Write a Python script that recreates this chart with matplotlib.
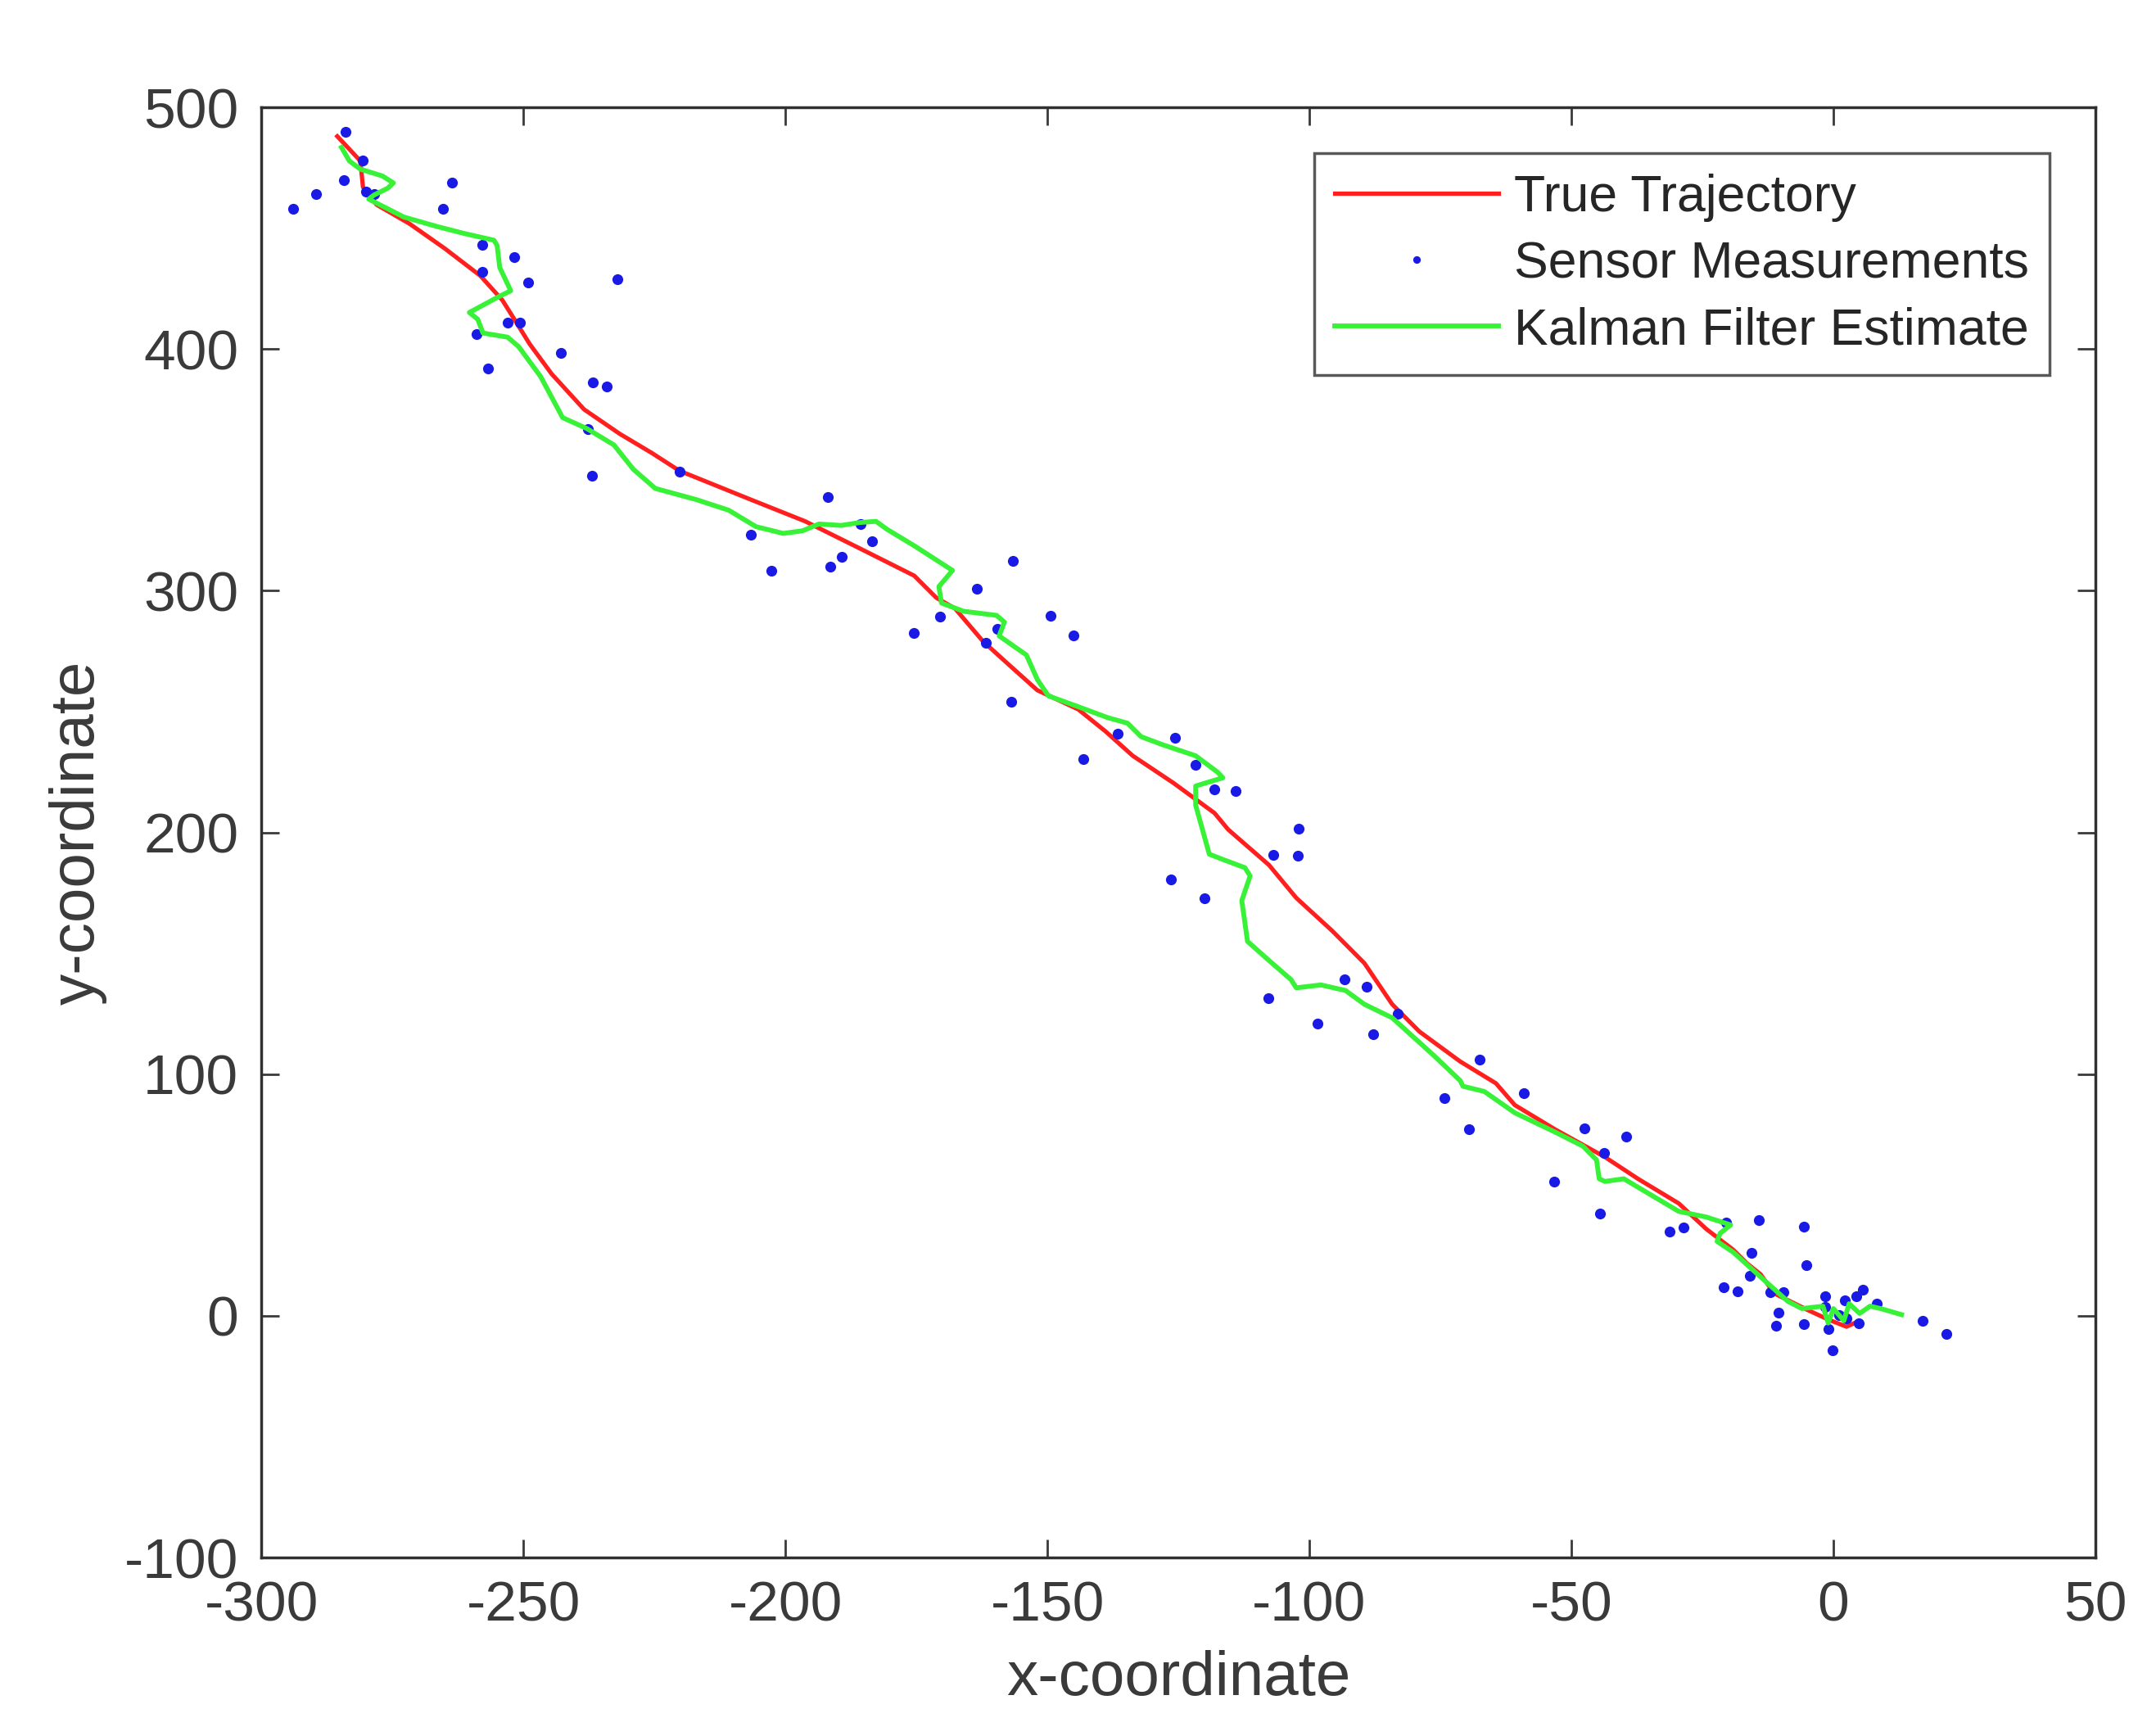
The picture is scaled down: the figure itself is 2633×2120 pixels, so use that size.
import matplotlib
matplotlib.use("Agg")
import matplotlib.pyplot as plt

# true trajectory (red)
true_x = [-285.5, -281.1, -280.6, -278.0, -271.7, -265.0, -258.2, -254.0, -251.4, -248.8,
          -244.6, -238.4, -231.6, -225.5, -220.2, -206.6, -196.2, -185.8, -175.4, -171.2,
          -167.6, -162.3, -157.1, -151.9, -144.1, -138.9, -133.7, -125.9, -118.1, -115.5,
          -107.7, -102.5, -95.7, -89.5, -84.2, -79.0, -71.2, -64.4, -60.8, -53.0,
          -43.6, -37.3, -29.5, -24.3, -19.1, -16.5, -13.9, -11.3, -5.0, -1.0,
          2.5, 4.0]
true_y = [488.0, 477.8, 467.0, 459.7, 451.8, 441.6, 430.3, 420.2, 411.2, 402.1,
          389.7, 375.0, 364.9, 357.0, 349.6, 337.7, 328.7, 317.5, 306.2, 297.1,
          292.6, 279.1, 268.9, 258.8, 250.9, 241.8, 231.7, 220.4, 208.0, 201.2,
          186.5, 172.9, 159.4, 145.9, 128.9, 117.6, 105.2, 96.2, 87.2, 77.0,
          65.7, 56.7, 46.5, 36.0, 27.3, 21.7, 17.2, 9.3, 2.5, -1.5,
          -4.5, -3.0]

# sensor measurements (blue dots)
meas_x = [-284.0, -280.6, -284.2, -289.5, -294.0, -280.0, -278.5, -263.6, -265.4, -257.9,
          -251.8, -257.8, -249.1, -232.0, -253.0, -250.6, -259.0, -256.8, -242.8, -236.7,
          -234.0, -237.6, -236.9, -220.2, -206.6, -202.6, -191.9, -185.6, -183.4, -189.3,
          -191.4, -175.5, -170.5, -156.6, -163.4, -149.4, -145.0, -159.6, -161.7, -156.9,
          -143.1, -136.6, -125.7, -121.7, -118.1, -114.0, -102.1, -106.9, -102.2, -126.4,
          -120.0, -107.8, -93.3, -89.0, -98.5, -87.8, -83.1, -67.5, -74.3, -69.5,
          -59.0, -47.5, -39.5, -43.7, -53.3, -44.5, -31.3, -28.6, -20.4, -14.2,
          -15.6, -16.0, -20.9, -18.3, -12.1, -9.5, -10.5, -10.9, -5.6, -5.2,
          -5.6, -1.5, -1.5, -0.9, 2.2, 4.3, 5.6, 8.2, 4.8, -0.1,
          17.0, 21.6, 1.1, 2.5]
meas_y = [490.0, 478.0, 470.0, 464.0, 458.0, 465.0, 464.0, 469.0, 458.0, 443.0,
          438.0, 432.0, 427.5, 429.0, 411.0, 411.0, 406.0, 392.0, 398.4, 386.3,
          384.6, 367.0, 347.4, 349.3, 323.0, 308.4, 338.6, 327.6, 320.6, 314.1,
          309.8, 282.6, 289.3, 312.4, 300.8, 289.5, 281.6, 284.2, 278.5, 254.0,
          230.5, 240.8, 239.2, 228.0, 217.8, 217.2, 201.7, 190.7, 190.5, 180.5,
          172.9, 131.4, 139.1, 136.3, 121.0, 116.5, 125.0, 106.0, 90.0, 77.2,
          92.0, 77.6, 74.2, 67.4, 55.6, 42.4, 34.7, 36.6, 38.6, 39.5,
          26.2, 16.6, 11.8, 10.1, 9.8, 9.8, 1.3, -4.1, 36.8, 21.1,
          -3.5, 8.1, 3.6, -5.4, 6.5, 8.1, 10.9, 4.9, -3.2, -14.4,
          -2.0, -7.4, 0.2, -1.0]

# kalman filter estimate (green)
kf_x = [-284.7, -283.2, -281.1, -276.9, -274.8, -275.9, -278.5, -279.5, -272.8, -266.5,
        -261.3, -255.6, -255.0, -254.5, -252.4, -255.0, -260.3, -258.7, -257.7, -253.0,
        -250.9, -246.7, -242.5, -237.9, -232.7, -229.0, -224.8, -217.0, -210.8, -205.6,
        -200.4, -196.7, -193.6, -189.4, -185.8, -182.7, -180.6, -175.4, -168.1, -170.7,
        -170.2, -166.0, -159.7, -158.2, -159.2, -154.0, -151.9, -149.8, -144.1, -138.5,
        -134.7, -132.1, -127.9, -121.7, -117.5, -116.5, -121.7, -121.7, -119.1, -116.5,
        -112.3, -111.3, -112.9, -111.8, -107.7, -103.5, -102.5, -97.8, -93.1, -89.5,
        -84.2, -76.4, -71.2, -70.7, -66.6, -60.8, -53.0, -47.8, -45.2, -44.7,
        -43.6, -40.0, -34.8, -29.5, -24.3, -19.6, -21.6, -22.2, -19.1, -13.9,
        -8.7, -6.0, -2.0, -1.0, 0.0, 2.0, 3.0, 5.0, 7.0, 9.0,
        13.0]
kf_y = [483.4, 477.8, 474.4, 471.6, 468.7, 466.5, 463.7, 462.0, 454.6, 450.7,
        447.8, 445.0, 442.8, 433.7, 424.1, 421.3, 415.1, 412.3, 406.6, 404.9,
        401.0, 388.6, 371.6, 367.1, 360.3, 350.2, 342.3, 337.7, 333.3, 326.5,
        323.7, 324.8, 327.6, 327.0, 328.2, 328.7, 325.4, 318.6, 308.4, 301.7,
        294.9, 291.5, 289.8, 287.0, 281.3, 273.4, 263.2, 256.5, 252.0, 247.5,
        245.2, 239.6, 236.2, 231.7, 224.9, 222.6, 219.2, 211.3, 191.0, 188.8,
        185.4, 182.0, 171.8, 154.9, 147.0, 139.1, 135.7, 136.9, 134.6, 128.9,
        123.3, 108.0, 97.3, 95.0, 92.8, 84.0, 75.9, 70.2, 64.5, 56.7,
        55.6, 56.7, 50.0, 43.2, 40.9, 37.6, 34.2, 30.8, 26.3, 16.1,
        6.0, 3.0, 4.0, -3.0, 3.0, -2.0, 5.0, 1.0, 4.0, 3.0,
        0.5]

plt.rcParams['font.family'] = ['Liberation Sans', 'DejaVu Sans']
plt.rcParams['axes.unicode_minus'] = False

fig = plt.figure(figsize=(2633 / 250, 2120 / 250), dpi=250)
ax = fig.add_axes([0.1212, 0.1028, 0.8507, 0.8354])

ax.plot(true_x, true_y, color=(1.0, 0.12, 0.12), lw=1.5, label='True Trajectory')
ax.plot(meas_x, meas_y, 'o', color=(0.1, 0.1, 0.9), ms=3.8, mew=0,
        label='Sensor Measurements')
ax.plot(kf_x, kf_y, color=(0.22, 0.95, 0.22), lw=1.7, label='Kalman Filter Estimate')

ax.set_xlim(-300, 50)
ax.set_ylim(-100, 500)
ax.set_xticks(range(-300, 51, 50))
ax.set_yticks(range(-100, 501, 100))

grey = '#3a3a3a'
ax.tick_params(direction='in', length=6.4, width=0.8, top=True, right=True,
               labelsize=20, colors=grey, pad=8)
for s in ax.spines.values():
    s.set_color('#303030')
    s.set_linewidth(1.0)

ax.set_xlabel('x-coordinate', fontsize=22, color=grey, labelpad=6)
ax.set_ylabel('y-coordinate', fontsize=22, color=grey, labelpad=6)

leg = ax.legend(loc='upper right', fontsize=18, frameon=True, fancybox=False,
                handlelength=3.2, handletextpad=0.3, labelspacing=0.35,
                borderpad=0.4, borderaxespad=0.9, markerscale=0.7)
leg.get_frame().set_edgecolor('#303030')
leg.get_frame().set_linewidth(1.0)
for t in leg.get_texts():
    t.set_color('#262626')

fig.savefig('out.png', dpi=250, facecolor='white')
